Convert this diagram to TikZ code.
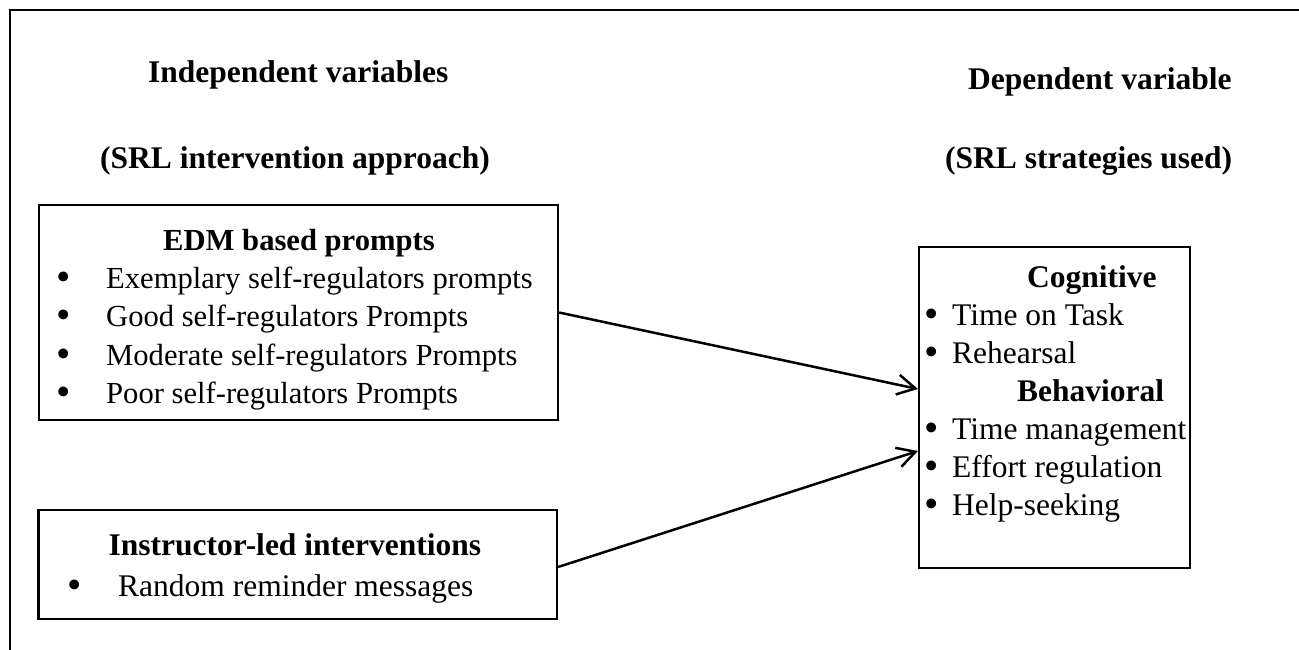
\documentclass[tikz,border=0pt]{standalone}
\usepackage{fontspec}
\setmainfont{Liberation Serif}
\usetikzlibrary{arrows.meta,calc}
\begin{document}
\begin{tikzpicture}[x=1pt,y=-1pt,
  txt/.style={anchor=base west,inner sep=0pt,font=\fontsize{31.5}{37}\selectfont},
  hd/.style={anchor=base west,inner sep=0pt,font=\fontsize{31.5}{37}\selectfont\bfseries},
  txtsm/.style={anchor=base west,inner sep=0pt,font=\fontsize{30.6}{36}\selectfont},
  hdsm/.style={anchor=base west,inner sep=0pt,font=\fontsize{30.6}{36}\selectfont\bfseries},
  bul/.style={anchor=base,inner sep=0pt,yshift=-2pt,font=\fontsize{41}{45}\selectfont},
  box/.style={draw,line width=2.2pt,inner sep=0pt},
  conn/.style={line width=2.5pt,-{Straight Barb[length=18pt,width=20pt,line width=2.5pt]}}
]
\useasboundingbox (0,0) rectangle (1299,650);

% open frame: top and left rules only
\coordinate (fbl) at (10,652);
\coordinate (ftl) at (10,10);
\coordinate (ftr) at (1301,10);
\draw[line width=2.5pt] (fbl) -- (ftl) -- (ftr);

% column headings
\node[hd] (iv1) at (148,83) {Independent variables};
\node[hd] (iv2) at (100,168) {(SRL intervention approach)};
\node[hd] (dv1) at (968,90) {Dependent variable};
\node[hd] (dv2) at (945,168) {(SRL strategies used)};

% EDM based prompts box
\node[box,minimum width=519pt,minimum height=215pt] (edm) at (298.5,312.5) {};
\node[hdsm] (edmh) at (163,250) {EDM based prompts};
\node[bul] (eb1) at (64,288) {\textbullet};
\node[txtsm] (e1) at (106,288) {Exemplary self-regulators prompts};
\node[bul] (eb2) at (64,326.5) {\textbullet};
\node[txtsm] (e2) at (106,326.5) {Good self-regulators Prompts};
\node[bul] (eb3) at (64,365) {\textbullet};
\node[txtsm] (e3) at (106,365) {Moderate self-regulators Prompts};
\node[bul] (eb4) at (64,403.5) {\textbullet};
\node[txtsm] (e4) at (106,403.5) {Poor self-regulators Prompts};

% Instructor-led interventions box
\node[box,minimum width=518.5pt,minimum height=109pt] (iled) at (297.75,564.5) {};
\node[hd] (iledh) at (108.5,555) {Instructor-led interventions};
\node[bul] (ib1) at (75,596) {\textbullet};
\node[txt] (i1) at (118,596) {Random reminder messages};

% SRL strategies box
\node[box,minimum width=271pt,minimum height=321pt] (dv) at (1054.5,407.5) {};
\node[hd] (cogh) at (1027,287) {Cognitive};
\node[bul] (cb1) at (932,325) {\textbullet};
\node[txt] (c1) at (952,325) {Time on Task};
\node[bul] (cb2) at (932,363) {\textbullet};
\node[txt] (c2) at (952,363) {Rehearsal};
\node[hd] (behh) at (1017,401) {Behavioral};
\node[bul] (bb1) at (932,439) {\textbullet};
\node[txt] (b1) at (952,439) {Time management};
\node[bul] (bb2) at (932,477) {\textbullet};
\node[txt] (b2) at (952,477) {Effort regulation};
\node[bul] (bb3) at (932,515) {\textbullet};
\node[txt] (b3) at (952,515) {Help-seeking};

% connectors
\draw[conn] (edm.east) -- ($(dv.west)+(0,-18.5)$);
\draw[conn] ($(iled.east)+(0,2.5)$) -- ($(dv.west)+(0,43.5)$);
\end{tikzpicture}
\end{document}
